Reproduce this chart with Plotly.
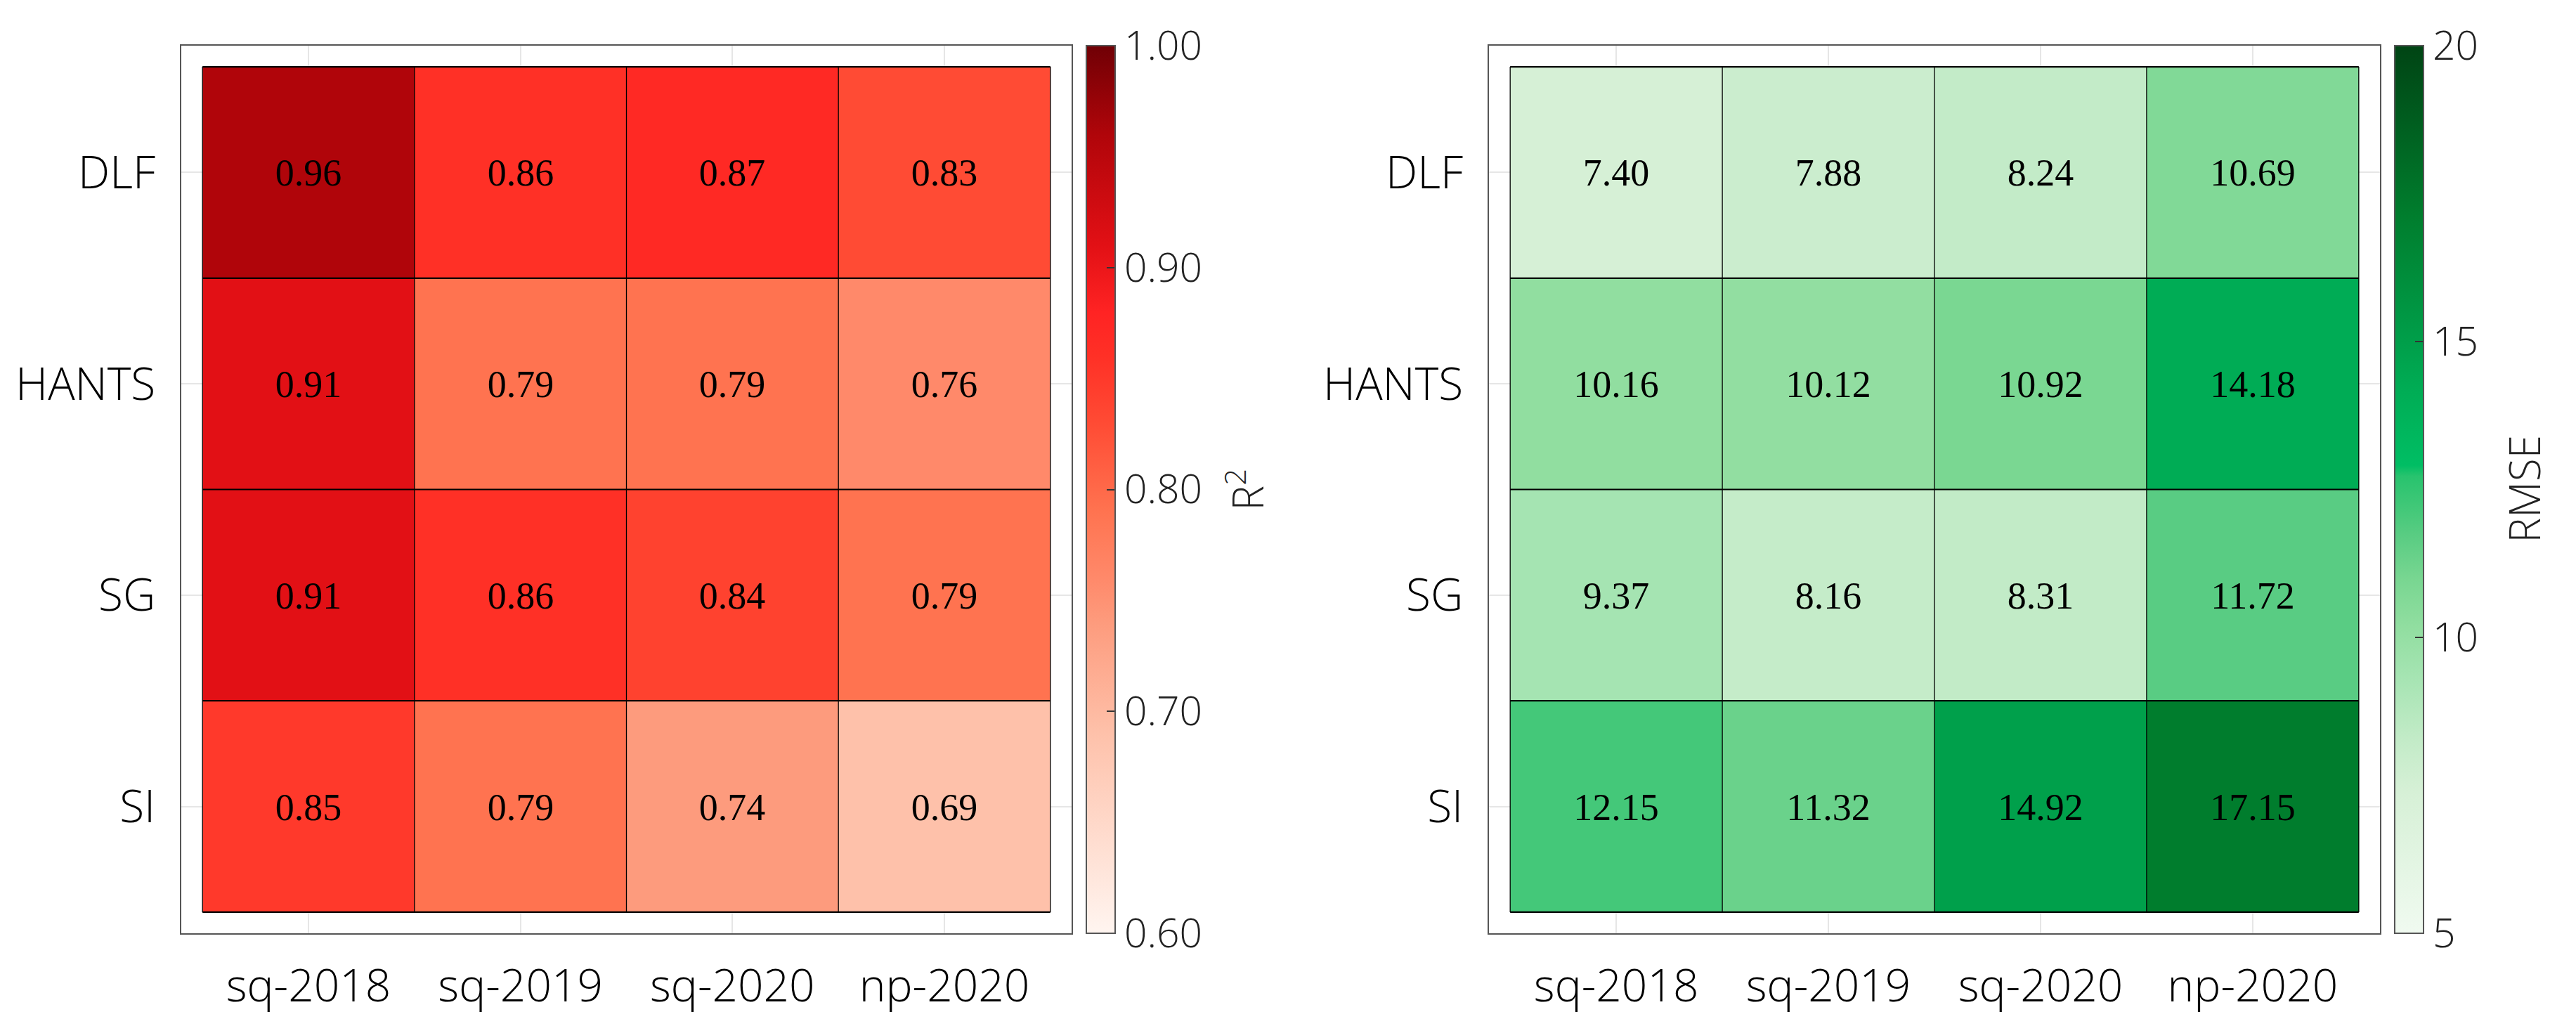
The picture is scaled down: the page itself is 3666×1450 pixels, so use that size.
import plotly.graph_objects as go

# ---- data ----
datasets = ["sq-2018", "sq-2019", "sq-2020", "np-2020"]
methods = ["DLF", "HANTS", "SG", "SI"]

r2_dlf = [0.96, 0.86, 0.87, 0.83]
r2_hants = [0.91, 0.79, 0.79, 0.76]
r2_sg = [0.91, 0.86, 0.84, 0.79]
r2_si = [0.85, 0.79, 0.74, 0.69]

rmse_dlf = [7.40, 7.88, 8.24, 10.69]
rmse_hants = [10.16, 10.12, 10.92, 14.18]
rmse_sg = [9.37, 8.16, 8.31, 11.72]
rmse_si = [12.15, 11.32, 14.92, 17.15]

r2_ticks = [0.6, 0.7, 0.8, 0.9, 1.0]
rmse_ticks = [5, 10, 15, 20]

r2 = [r2_dlf, r2_hants, r2_sg, r2_si]
rmse = [rmse_dlf, rmse_hants, rmse_sg, rmse_si]

# ---- styles ----
W, H = 3666, 1450
LABEL_FONT = "Open Sans"
CELL_FONT = "Liberation Serif"

red_scale = [
    [0.0, "rgb(255,245,240)"], [0.225, "rgb(254,193,170)"], [0.35, "rgb(253,155,125)"],
    [0.4, "rgb(255,137,106)"], [0.475, "rgb(255,115,80)"], [0.575, "rgb(255,75,52)"],
    [0.65, "rgb(255,48,38)"], [0.7, "rgb(255,35,35)"], [0.775, "rgb(226,16,21)"],
    [0.9, "rgb(176,5,10)"], [1.0, "rgb(112,0,5)"],
]
green_scale = [
    [0.0, "rgb(240,250,240)"], [0.16, "rgb(214,240,214)"], [0.22, "rgb(194,235,199)"],
    [0.29, "rgb(165,228,178)"], [0.345, "rgb(145,222,160)"], [0.4, "rgb(120,214,145)"],
    [0.45, "rgb(88,204,130)"], [0.48, "rgb(65,200,120)"], [0.515, "rgb(40,195,110)"],
    [0.527, "rgb(0,190,100)"], [0.61, "rgb(0,173,85)"], [0.66, "rgb(0,160,75)"],
    [0.81, "rgb(0,125,45)"], [1.0, "rgb(0,68,20)"],
]

ydom = [1 - 1320 / H, 1 - 57 / H]
x1dom = [250 / W, 1517 / W]
x2dom = [2111 / W, 3379 / W]


def cbar(xpos, ticks, fmt):
    return dict(
        x=xpos, xanchor="left", y=ydom[1], yanchor="top",
        len=ydom[1] - ydom[0], lenmode="fraction",
        thickness=41, xpad=0, ypad=0,
        outlinecolor="#555", outlinewidth=2,
        ticks="inside", ticklen=13, tickwidth=2, tickcolor="#333",
        tickvals=ticks, tickformat=fmt,
        tickfont=dict(family=LABEL_FONT, size=57, color="#222", weight=300),
    )


fig = go.Figure()
fig.add_trace(go.Heatmap(
    x=datasets, y=methods, z=r2, zmin=r2_ticks[0], zmax=r2_ticks[-1],
    colorscale=red_scale, texttemplate="%{z:.2f}",
    textfont=dict(family=CELL_FONT, size=54, color="black"),
    colorbar=cbar(1538 / W, r2_ticks, ".2f"),
    xaxis="x", yaxis="y",
))
fig.add_trace(go.Heatmap(
    x=datasets, y=methods, z=rmse, zmin=rmse_ticks[0], zmax=rmse_ticks[-1],
    colorscale=green_scale, texttemplate="%{z:.2f}",
    textfont=dict(family=CELL_FONT, size=54, color="black"),
    colorbar=cbar(3400 / W, rmse_ticks, "d"),
    xaxis="x2", yaxis="y2",
))

axis_common = dict(
    type="category", showgrid=True, gridcolor="#e6e6e6", gridwidth=2,
    showline=True, mirror=True, linecolor="#555", linewidth=2,
    ticks="", zeroline=False, fixedrange=True,
    tickfont=dict(family=LABEL_FONT, size=64, color="black", weight=300),
)
nx, ny = len(datasets), len(methods)
ymid = (ydom[0] + ydom[1]) / 2
fig.update_layout(
    width=W, height=H, margin=dict(l=0, r=0, t=0, b=0),
    paper_bgcolor="white", plot_bgcolor="white", showlegend=False,
    xaxis=dict(domain=x1dom, range=[-0.6, nx - 0.4], anchor="y",
               ticklabelstandoff=18, **axis_common),
    yaxis=dict(domain=ydom, range=[ny - 0.4, -0.6], anchor="x",
               ticklabelstandoff=22, **axis_common),
    xaxis2=dict(domain=x2dom, range=[-0.6, nx - 0.4], anchor="y2",
                ticklabelstandoff=18, **axis_common),
    yaxis2=dict(domain=ydom, range=[ny - 0.4, -0.6], anchor="x2",
                ticklabelstandoff=22, **axis_common),
    annotations=[
        dict(text="R<sup>2</sup>", xref="paper", yref="paper", x=1763 / W, y=ymid,
             xanchor="center", yanchor="middle", textangle=-90, showarrow=False,
             font=dict(family=LABEL_FONT, size=60, color="#222", weight=300)),
        dict(text="RMSE", xref="paper", yref="paper", x=3583 / W, y=ymid,
             xanchor="center", yanchor="middle", textangle=-90, showarrow=False,
             font=dict(family=LABEL_FONT, size=60, color="#222", weight=300)),
    ],
)

# cell borders derived from the grid dimensions
shapes = []
for xr, yr in (("x", "y"), ("x2", "y2")):
    for i in range(nx + 1):
        shapes.append(dict(type="line", xref=xr, yref=yr, x0=i - 0.5, x1=i - 0.5,
                           y0=-0.5, y1=ny - 0.5, line=dict(color="black", width=1.3),
                           layer="above"))
    for j in range(ny + 1):
        shapes.append(dict(type="line", xref=xr, yref=yr, x0=-0.5, x1=nx - 0.5,
                           y0=j - 0.5, y1=j - 0.5, line=dict(color="black", width=2.2),
                           layer="above"))
fig.update_layout(shapes=shapes)

fig.write_html("out.html")
